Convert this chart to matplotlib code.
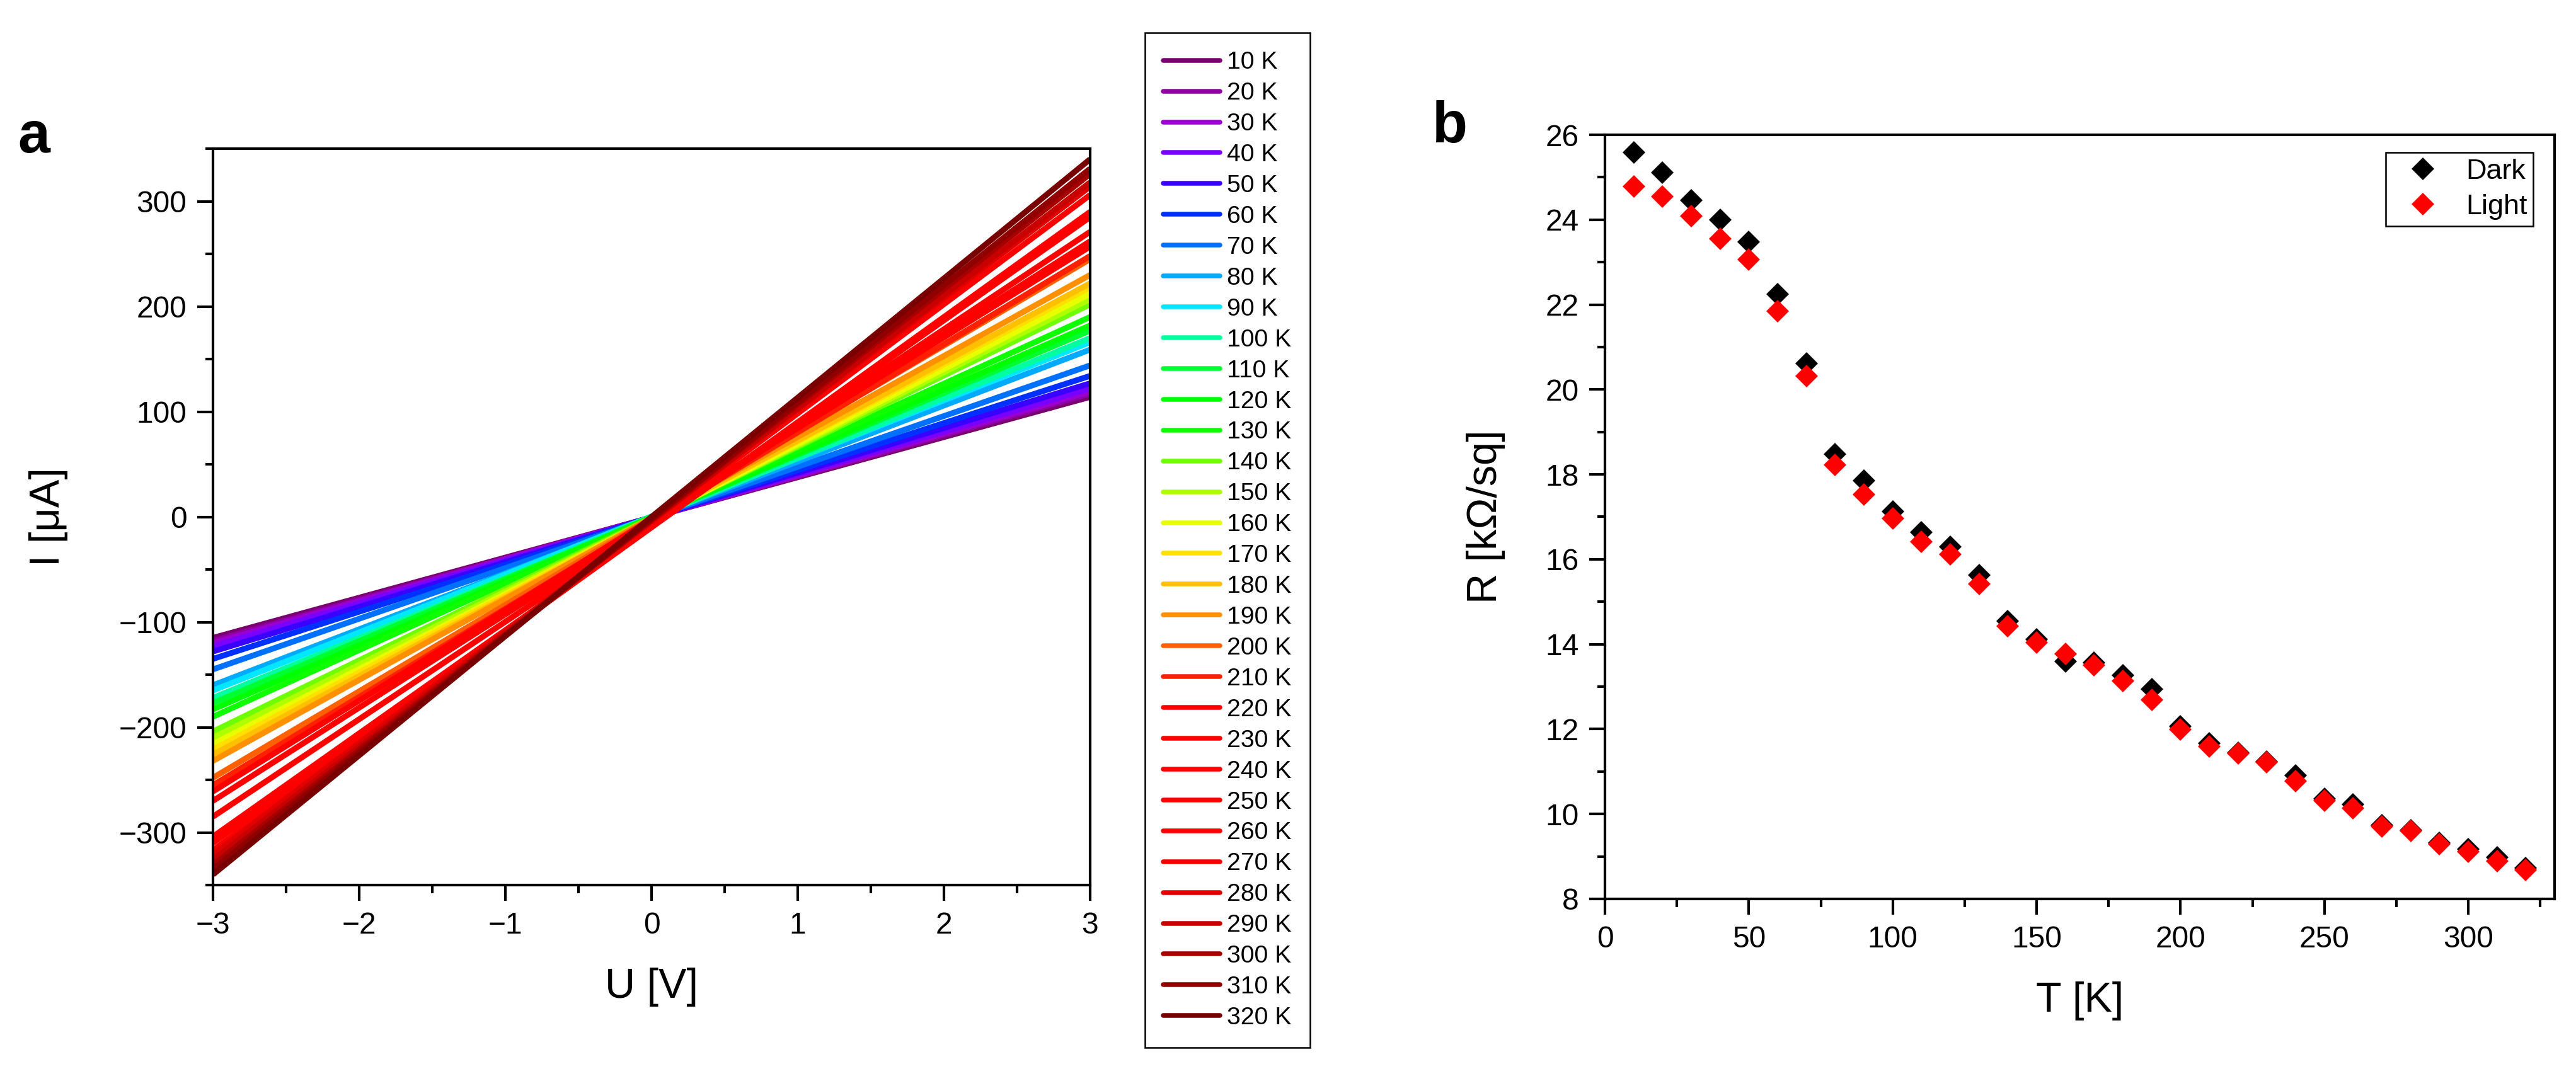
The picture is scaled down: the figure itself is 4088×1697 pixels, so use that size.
import matplotlib
matplotlib.use("Agg")
import matplotlib.pyplot as plt
from matplotlib.ticker import MultipleLocator

plt.rcParams['font.family'] = ['Liberation Sans', 'DejaVu Sans']

# ---------------- data ----------------
temps_K = [10, 20, 30, 40, 50, 60, 70, 80, 90, 100, 110, 120, 130, 140, 150, 160,
           170, 180, 190, 200, 210, 220, 230, 240, 250, 260, 270, 280, 290, 300, 310, 320]
temp_labels = [f"{t} K" for t in temps_K]

# current (uA) at U = -3 V and U = +3 V
U_ends = [-3.0, 3.0]
I_at_minus3 = [-115, -118, -120, -123, -128, -135, -145, -160, -165, -172, -177, -183,
               -190, -204, -210, -216, -221, -226, -232, -248, -255, -261, -270, -285,
               -304, -310, -317, -321, -326, -331, -335, -340]
I_at_plus3 = [114, 117, 119, 122, 127, 134, 144, 159, 166, 170, 177, 182,
              190, 202, 207, 212, 218, 222, 230, 245, 248, 257, 262, 271,
              285, 290, 306, 314, 318, 326, 331, 340]

line_colors = ['#7a0070', '#9000a0', '#9a00d0', '#7a00ff', '#3a00ff', '#0030ff',
               '#0070ff', '#00aaff', '#00e8ff', '#00ffa0', '#00ff30', '#00ff00',
               '#10ff00', '#70ff00', '#b0ff00', '#e8ff00', '#ffe000', '#ffc000',
               '#ff9000', '#ff6000', '#ff2000', '#ff0000', '#ff0000', '#ff0000',
               '#ff0000', '#ff0000', '#fa0000', '#e00000', '#c80000', '#a80000',
               '#900000', '#780000']

# panel b: sheet resistance (kOhm/sq)
T_b = [10, 20, 30, 40, 50, 60, 70, 80, 90, 100, 110, 120, 130, 140, 150, 160,
       170, 180, 190, 200, 210, 220, 230, 240, 250, 260, 270, 280, 290, 300, 310, 320]
R_dark = [25.58, 25.11, 24.45, 24.0, 23.48, 22.24, 20.62, 18.48, 17.85, 17.13, 16.63, 16.29,
          15.62, 14.54, 14.11, 13.60, 13.56, 13.27, 12.94, 12.07, 11.67, 11.45, 11.23, 10.91,
          10.36, 10.22, 9.73, 9.62, 9.32, 9.17, 8.98, 8.73]
R_light = [24.79, 24.54, 24.09, 23.55, 23.06, 21.84, 20.32, 18.23, 17.53, 16.97, 16.41, 16.12,
           15.42, 14.42, 14.04, 13.77, 13.50, 13.14, 12.69, 11.99, 11.59, 11.43, 11.22, 10.78,
           10.31, 10.14, 9.71, 9.60, 9.29, 9.11, 8.89, 8.69]

# ---------------- figure ----------------
W, H = 4088, 1697
DPI = 300
fig = plt.figure(figsize=(W / DPI, H / DPI), dpi=DPI)

def frac_box(l, r, t, b):
    return [l / W, 1 - b / H, (r - l) / W, (b - t) / H]

axA = fig.add_axes(frac_box(338, 1730, 236, 1405))
axB = fig.add_axes(frac_box(2547, 4054, 214, 1427))

TICK_FS = 11.5
LABEL_FS = 16

for ax in (axA, axB):
    for sp in ax.spines.values():
        sp.set_linewidth(1.0)
    ax.tick_params(which='both', direction='out', top=False, right=False,
                   width=1.0, labelsize=TICK_FS, pad=4)
    ax.tick_params(which='major', length=6)
    ax.tick_params(which='minor', length=3)

# panel a
handles = []
for lab, c, i0, i1 in zip(temp_labels, line_colors, I_at_minus3, I_at_plus3):
    ln, = axA.plot(U_ends, [i0, i1], color=c, lw=2.2, solid_capstyle='butt', label=lab)
    handles.append(ln)

axA.set_xlim(-3, 3)
axA.set_ylim(-350, 350)
axA.xaxis.set_major_locator(MultipleLocator(1))
axA.xaxis.set_minor_locator(MultipleLocator(0.5))
axA.yaxis.set_major_locator(MultipleLocator(100))
axA.yaxis.set_minor_locator(MultipleLocator(50))
axA.set_xlabel('U [V]', fontsize=LABEL_FS)
axA.set_ylabel('I [\u03bcA]', fontsize=LABEL_FS)
axA.xaxis.set_label_coords(0.5, -0.112)
axA.yaxis.set_label_coords(-0.165, 0.5)

legA = fig.legend(handles=handles, loc='upper left',
                  bbox_to_anchor=(1817 / W, 1 - 52 / H), bbox_transform=fig.transFigure,
                  borderaxespad=0, fontsize=9.4, frameon=True, fancybox=False,
                  edgecolor='black', framealpha=1, borderpad=0.75, handlelength=2.3,
                  handletextpad=0.28, labelspacing=0.33)
legA.get_frame().set_linewidth(0.6)
for lh in legA.get_lines():
    lh.set_linewidth(1.8)
    lh.set_solid_capstyle('round')

# panel b
axB.plot(T_b, R_dark, linestyle='none', marker='D', ms=6.2, color='black',
         markeredgewidth=0, label='Dark')
axB.plot(T_b, R_light, linestyle='none', marker='D', ms=6.2, color='#ff0000',
         markeredgewidth=0, label='Light')
axB.set_xlim(0, 330)
axB.set_ylim(8, 26)
axB.xaxis.set_major_locator(MultipleLocator(50))
axB.xaxis.set_minor_locator(MultipleLocator(25))
axB.yaxis.set_major_locator(MultipleLocator(2))
axB.yaxis.set_minor_locator(MultipleLocator(1))
axB.set_xlabel('T [K]', fontsize=LABEL_FS)
axB.set_ylabel('R [k\u03a9/sq]', fontsize=LABEL_FS)
axB.xaxis.set_label_coords(0.5, -0.108)
axB.yaxis.set_label_coords(-0.105, 0.5)

legB = axB.legend(loc='upper left', bbox_to_anchor=(3786 / W, 1 - 242 / H),
                  bbox_transform=fig.transFigure, borderaxespad=0, fontsize=10.8,
                  frameon=True, fancybox=False, edgecolor='black', framealpha=1,
                  borderpad=0.22, handlelength=2.2, handletextpad=0.4, labelspacing=0.33)
legB.get_frame().set_linewidth(0.6)

fig.text(28 / W, 1 - 242 / H, 'a', fontsize=22, fontweight='bold', ha='left', va='baseline')
fig.text(2273 / W, 1 - 226 / H, 'b', fontsize=22, fontweight='bold', ha='left', va='baseline')

fig.savefig('out.png', dpi=DPI)
